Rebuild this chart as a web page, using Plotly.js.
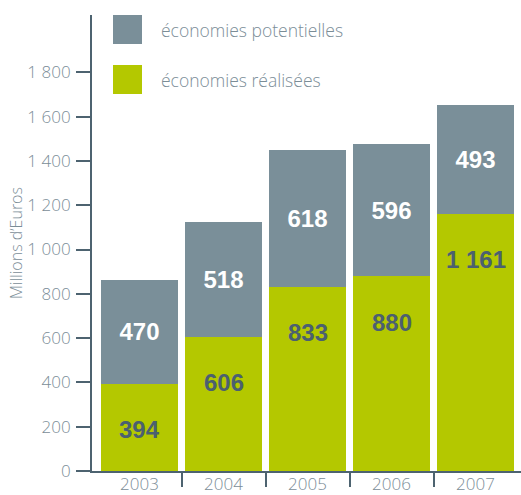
<!DOCTYPE html>
<html>
<head>
<meta charset="utf-8">
<script src="https://cdn.plot.ly/plotly-3.0.1.min.js"></script>
<style>html,body{margin:0;padding:0;background:#fff;}#chart{width:521px;height:495px;}</style>
</head>
<body>
<div id="chart"></div>
<script>
// ---- data ----
const years = ['2003', '2004', '2005', '2006', '2007'];
const realisees = [394, 606, 833, 880, 1161];
const potentielles = [470, 518, 618, 596, 493];
const realiseesLabels = ['394', '606', '833', '880', '1 161'];
const potentiellesLabels = ['470', '518', '618', '596', '493'];
const seriesNames = ['économies potentielles', 'économies réalisées'];
const yTitle = "Millions d’Euros";

// ---- styles ----
const GREEN = '#b4c800';
const GREY = '#7a8f99';
const AXIS = '#4d6370';
const TXT = '#7b8d97';
const DARKLBL = '#4b6070';
const lightFont = {family: '"Open Sans", sans-serif', size: 17, color: TXT, weight: 300};
const boldFamily = '"Liberation Sans", Arial, sans-serif';

const traces = [
  {
    type: 'bar', name: seriesNames[1], x: years, y: realisees,
    marker: {color: GREEN, line: {width: 0}},
    hoverinfo: 'none', showlegend: false
  },
  {
    type: 'bar', name: seriesNames[0], x: years, y: potentielles,
    marker: {color: GREY, line: {width: 0}},
    text: potentiellesLabels, textposition: 'inside', insidetextanchor: 'middle',
    textangle: 0,
    textfont: {family: boldFamily, size: 24, color: '#ffffff', weight: 700},
    hoverinfo: 'none', showlegend: false
  },
  {
    // overlay axis for boundary ticks between categories
    type: 'scatter', mode: 'markers', x: [], y: [], xaxis: 'x2', yaxis: 'y',
    showlegend: false, hoverinfo: 'none'
  }
];

const annotations = years.map((yr, i) => ({
  x: i, y: realisees[i], xref: 'x', yref: 'y',
  text: '<b>' + realiseesLabels[i] + '</b>', showarrow: false,
  yanchor: 'middle', yshift: -46,
  font: {family: boldFamily, size: 24, color: DARKLBL}
}));

// legend (squares + texts)
const legendRows = [
  {name: seriesNames[0], color: GREY, yTop: 15},
  {name: seriesNames[1], color: GREEN, yTop: 65}
];
const H = 495, W = 521, mL = 92, mR = 0, mT = 15, mB = 24;
const pw = W - mL - mR, ph = H - mT - mB;
const shapes = [];
legendRows.forEach(r => {
  const x0 = (113 - mL) / pw, x1 = (142 - mL) / pw;
  const y0 = (H - mB - (r.yTop + 29)) / ph, y1 = (H - mB - r.yTop) / ph;
  shapes.push({type: 'rect', xref: 'paper', yref: 'paper', x0: x0, x1: x1, y0: y0, y1: y1,
    fillcolor: r.color, line: {width: 0}, layer: 'above'});
  annotations.push({xref: 'paper', yref: 'paper', x: (159 - mL) / pw, y: (H - mB - (r.yTop + 14.5)) / ph,
    xanchor: 'left', yanchor: 'middle', showarrow: false, text: r.name,
    font: {family: '"Open Sans", sans-serif', size: 17.5, color: TXT, weight: 300}});
});

const xr = [-0.5655, 4.5417];
const layout = {
  width: W, height: H,
  margin: {l: mL, r: mR, t: mT, b: mB, pad: 0},
  paper_bgcolor: '#ffffff', plot_bgcolor: '#ffffff',
  barmode: 'stack', bargap: 0.083,
  showlegend: false,
  separators: ', ',
  xaxis: {
    type: 'category', range: xr, fixedrange: true,
    showline: true, linecolor: AXIS, linewidth: 2,
    ticks: '', showgrid: false, zeroline: false,
    tickfont: lightFont, ticklabelstandoff: -3
  },
  xaxis2: {
    overlaying: 'x', type: 'linear', range: xr, anchor: 'y', side: 'bottom',
    tickvals: years.slice(1).map((_, i) => i + 0.5),
    showticklabels: false, ticks: 'outside', ticklen: 15, tickwidth: 2, tickcolor: AXIS,
    showgrid: false, zeroline: false, showline: false
  },
  yaxis: {
    range: [0, 2059], fixedrange: true,
    tickvals: [0, 200, 400, 600, 800, 1000, 1200, 1400, 1600, 1800],
    separatethousands: true,
    showline: true, linecolor: AXIS, linewidth: 2,
    ticks: 'outside', ticklen: 14, tickwidth: 2, tickcolor: AXIS,
    showgrid: false, zeroline: false,
    tickfont: lightFont, ticklabelstandoff: 2,
    title: {text: yTitle, font: {family: '"Open Sans", sans-serif', size: 16, color: TXT, weight: 300}, standoff: 1}
  },
  annotations: annotations,
  shapes: shapes
};

Plotly.newPlot('chart', traces, layout, {staticPlot: true, displayModeBar: false});
</script>
</body>
</html>
